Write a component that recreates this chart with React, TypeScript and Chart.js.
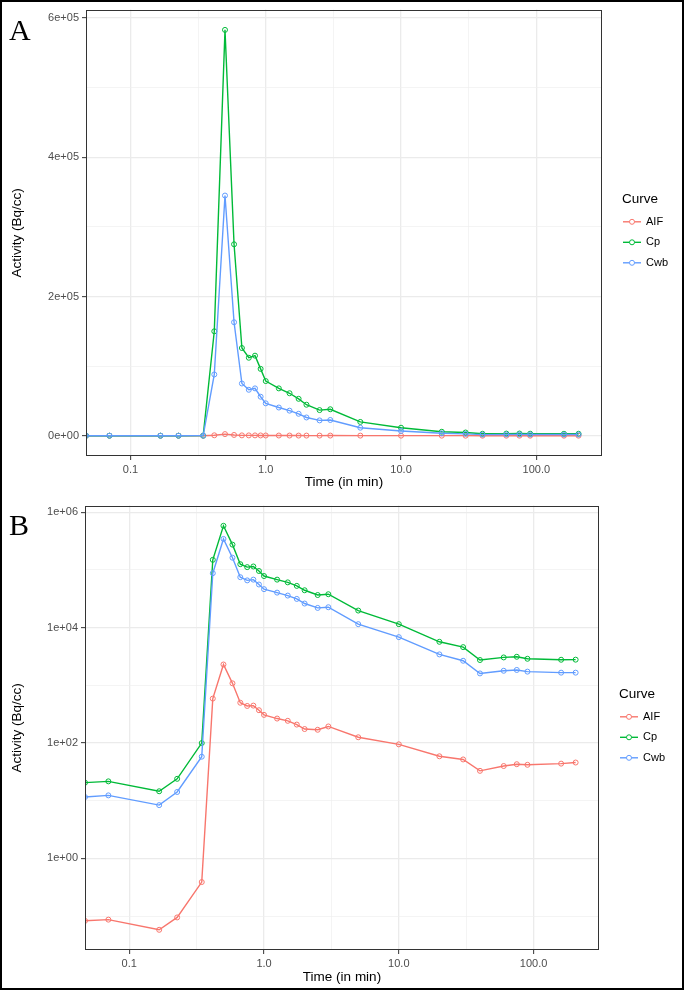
import React, { useEffect, useRef } from 'react';
import { Chart, registerables } from 'chart.js';

Chart.register(...registerables);

// ---------------- data ----------------
const TIME_MIN = [0, 0.07, 0.1667, 0.2267, 0.345, 0.4167, 0.5, 0.5833, 0.6667, 0.75, 0.8333, 0.9167, 1, 1.25, 1.5, 1.75, 2, 2.5, 3, 5, 10, 20, 30, 40, 60, 75, 90, 160, 205];
const AIF = [0.083, 0.087, 0.058, 0.095, 0.39, 590, 2300, 1085, 500, 440, 446, 371, 308, 266, 243, 209, 175, 170, 194, 126, 95, 59, 52, 33, 40, 43, 42, 44, 46];
const CP = [20.6, 21.7, 14.6, 24, 100, 150000, 583000, 275000, 126000, 112000, 115000, 96000, 78500, 68000, 61000, 53000, 44500, 36800, 38000, 19800, 11500, 5690, 4600, 2750, 3050, 3130, 2890, 2780, 2790];
const CWB = [11.6, 12.4, 8.4, 14.2, 58, 88000, 345000, 163000, 75000, 66000, 68000, 56000, 46500, 40500, 36000, 31500, 26200, 22000, 22600, 11500, 6850, 3440, 2670, 1610, 1790, 1850, 1730, 1660, 1660];

const CURVE_NAMES = ['AIF', 'Cp', 'Cwb'];
const CURVE_COLORS = ['#F8766D', '#00BA38', '#619CFF'];

const X_MAJOR = [0.1, 1, 10, 100];
const X_LABELS = ['0.1', '1.0', '10.0', '100.0'];
const YA_MAJOR = [0, 2e5, 4e5, 6e5];
const YA_LABELS = ['0e+00', '2e+05', '4e+05', '6e+05'];
const YB_MAJOR = [1, 1e2, 1e4, 1e6];
const YB_LABELS = ['1e+00', '1e+02', '1e+04', '1e+06'];

const X_TITLE = 'Time (in min)';
const Y_TITLE = 'Activity (Bq/cc)';
const LEGEND_TITLE = 'Curve';

// ---------------- helpers ----------------
const SERIES = [AIF, CP, CWB];
const FONT = '"Liberation Sans", Arial, sans-serif';

function logLimits(values: number[]) {
  const pos = values.filter((v) => v > 0);
  const lo = Math.log10(Math.min(...pos));
  const hi = Math.log10(Math.max(...pos));
  const pad = (hi - lo) * 0.05;
  return [Math.pow(10, lo - pad), Math.pow(10, hi + pad)];
}
function linLimits(values: number[]) {
  const lo = Math.min(...values);
  const hi = Math.max(...values);
  const pad = (hi - lo) * 0.05;
  return [lo - pad, hi + pad];
}

function makeTicks(majors: number[], log: boolean, min: number, max: number) {
  const n = majors.length;
  const step = log ? majors[1] / majors[0] : majors[1] - majors[0];
  const ext = log
    ? [majors[0] / step, ...majors, majors[n - 1] * step]
    : [majors[0] - step, ...majors, majors[n - 1] + step];
  const ticks: { value: number; major: boolean }[] = [];
  for (let i = 0; i < ext.length; i++) {
    ticks.push({ value: ext[i], major: true });
    if (i < ext.length - 1) {
      const mid = log ? Math.sqrt(ext[i] * ext[i + 1]) : (ext[i] + ext[i + 1]) / 2;
      ticks.push({ value: mid, major: false });
    }
  }
  return ticks.filter((t) => t.value >= min && t.value <= max).sort((a, b) => a.value - b.value);
}

function labelFor(majors: number[], labels: string[]) {
  return (value: number) => {
    const i = majors.findIndex((m) => Math.abs(m - value) <= 1e-9 * Math.max(1, Math.abs(m)));
    return i >= 0 ? labels[i] : '';
  };
}

const gridOpts = {
  color: (c: any) => (c.tick && c.tick.major ? '#EBEBEB' : '#EFEFEF'),
  lineWidth: (c: any) => (c.tick && c.tick.major ? 1.3 : 0.7),
  tickColor: (c: any) => (c.tick && c.tick.major ? '#333333' : 'rgba(0,0,0,0)'),
  tickWidth: 1,
  tickLength: 4,
  drawTicks: true,
  drawOnChartArea: true,
};

type Spec = {
  top: number;
  label: string;
  labelY: number;
  yLog: boolean;
  padRight: number;
  yAxisWidth: number;
  xAxisHeight: number;
  xTitlePad: number;
};

function buildConfig(spec: Spec) {
  const [xMin, xMax] = logLimits(TIME_MIN);
  const allY = [...AIF, ...CP, ...CWB];
  const [yMin, yMax] = spec.yLog ? logLimits(allY) : linLimits(allY);
  const yMajor = spec.yLog ? YB_MAJOR : YA_MAJOR;
  const yLabels = spec.yLog ? YB_LABELS : YA_LABELS;

  const datasets = SERIES.map((vals, k) => ({
    label: CURVE_NAMES[k],
    data: TIME_MIN.map((t, i) => ({ x: t === 0 ? xMin : t, y: vals[i] })),
    borderColor: CURVE_COLORS[k],
    backgroundColor: CURVE_COLORS[k],
    borderWidth: 1.4,
    pointRadius: 2.5,
    pointBorderWidth: 1,
    pointBackgroundColor: 'rgba(0,0,0,0)',
    pointBorderColor: CURVE_COLORS[k],
    pointStyle: 'circle',
    tension: 0,
    fill: false,
    order: 3 - k,
  }));

  const decor = {
    id: 'decor',
    afterDatasetsDraw(chart: any) {
      const { ctx, chartArea: a } = chart;
      ctx.save();
      ctx.strokeStyle = '#333333';
      ctx.lineWidth = 1;
      ctx.strokeRect(Math.round(a.left) + 0.5, Math.round(a.top) + 0.5, Math.round(a.right - a.left) - 1, Math.round(a.bottom - a.top) - 1);
      ctx.restore();
    },
    afterDraw(chart: any) {
      const { ctx, chartArea: a } = chart;
      ctx.save();
      // legend
      const x0 = a.right + 20;
      const cy = (a.top + a.bottom) / 2;
      ctx.textAlign = 'left';
      ctx.textBaseline = 'middle';
      ctx.fillStyle = '#000000';
      ctx.font = `13.5px ${FONT}`;
      ctx.fillText(LEGEND_TITLE, x0, cy - 33.5);
      CURVE_NAMES.forEach((name, i) => {
        const y = cy - 11 + i * 20.5;
        ctx.strokeStyle = CURVE_COLORS[i];
        ctx.lineWidth = 1.4;
        ctx.beginPath();
        ctx.moveTo(x0 + 1, y);
        ctx.lineTo(x0 + 19, y);
        ctx.stroke();
        ctx.lineWidth = 1;
        ctx.beginPath();
        ctx.fillStyle = '#FFFFFF';
        ctx.arc(x0 + 10, y, 2.5, 0, Math.PI * 2);
        ctx.fill();
        ctx.stroke();
        ctx.fillStyle = '#000000';
        ctx.font = `11px ${FONT}`;
        ctx.fillText(name, x0 + 24, y);
      });
      // panel tag
      ctx.font = '30px "Liberation Serif", "Times New Roman", serif';
      ctx.textBaseline = 'alphabetic';
      ctx.fillStyle = '#000000';
      ctx.fillText(spec.label, 9, spec.labelY);
      ctx.restore();
    },
  };

  return {
    type: 'line' as const,
    data: { datasets },
    options: {
      responsive: false,
      animation: false as const,
      devicePixelRatio: 1,
      layout: { padding: { left: 0, top: 9, right: spec.padRight, bottom: 0 } },
      plugins: { legend: { display: false }, tooltip: { enabled: false } },
      scales: {
        x: {
          type: 'logarithmic' as const,
          position: 'bottom' as const,
          min: xMin,
          max: xMax,
          bounds: 'data' as const,
          afterBuildTicks: (s: any) => {
            s.ticks = makeTicks(X_MAJOR, true, xMin, xMax);
          },
          afterFit: (s: any) => {
            s.height = spec.xAxisHeight;
          },
          ticks: {
            autoSkip: false,
            maxRotation: 0,
            padding: 3,
            color: '#4D4D4D',
            font: { family: FONT, size: 11 },
            callback: labelFor(X_MAJOR, X_LABELS),
          },
          grid: gridOpts,
          border: { display: false },
          title: {
            display: true,
            text: X_TITLE,
            color: '#000000',
            font: { family: FONT, size: 13.5 },
            padding: { top: 0, bottom: spec.xTitlePad },
          },
        },
        y: {
          type: spec.yLog ? ('logarithmic' as const) : ('linear' as const),
          position: 'left' as const,
          min: yMin,
          max: yMax,
          bounds: 'data' as const,
          afterBuildTicks: (s: any) => {
            s.ticks = makeTicks(yMajor, spec.yLog, yMin, yMax);
          },
          afterFit: (s: any) => {
            s.width = spec.yAxisWidth;
          },
          ticks: {
            autoSkip: false,
            padding: 3,
            color: '#4D4D4D',
            font: { family: FONT, size: 11 },
            callback: labelFor(yMajor, yLabels),
          },
          grid: gridOpts,
          border: { display: false },
          title: {
            display: true,
            text: Y_TITLE,
            color: '#000000',
            font: { family: FONT, size: 13.5 },
            padding: { top: 9, bottom: 0 },
          },
        },
      },
    },
    plugins: [decor],
  };
}

function Panel({ spec }: { spec: Spec }) {
  const ref = useRef<HTMLCanvasElement | null>(null);
  useEffect(() => {
    if (!ref.current) return;
    const chart = new Chart(ref.current, buildConfig(spec) as any);
    return () => chart.destroy();
  }, []);
  return (
    <canvas
      ref={ref}
      width={685}
      height={496}
      style={{ position: 'absolute', left: 0, top: spec.top, width: 685, height: 496, display: 'block' }}
    />
  );
}

const SPEC_A: Spec = { top: 0, label: 'A', labelY: 40, yLog: false, padRight: 83, yAxisWidth: 86, xAxisHeight: 40, xTitlePad: 6 };
const SPEC_B: Spec = { top: 496, label: 'B', labelY: 39, yLog: true, padRight: 86, yAxisWidth: 85, xAxisHeight: 42, xTitlePad: 7 };

export default function App() {
  return (
    <div style={{ position: 'absolute', left: 0, top: 0, width: 685, height: 992, background: '#FFFFFF', overflow: 'hidden' }}>
      <Panel spec={SPEC_A} />
      <Panel spec={SPEC_B} />
      <div
        style={{
          position: 'absolute',
          left: 0,
          top: 0,
          width: 684,
          height: 990,
          boxSizing: 'border-box',
          border: '2px solid #000000',
          pointerEvents: 'none',
        }}
      />
    </div>
  );
}
